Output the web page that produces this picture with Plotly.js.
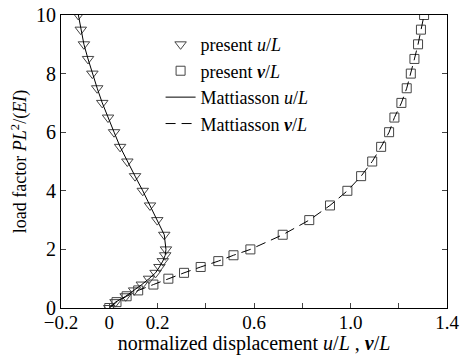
<!DOCTYPE html>
<html>
<head>
<meta charset="utf-8">
<script src="https://cdn.plot.ly/plotly-3.0.1.min.js"></script>
<style>html,body{margin:0;padding:0;background:#fff;}#chart{width:460px;height:355px;}</style>
</head>
<body>
<div id="chart"></div>
<script>
// load factor levels
const loadU = [0, 0.2, 0.4, 0.6, 0.8, 1.0, 1.2, 1.4, 1.6, 1.8, 2.0, 2.5, 3.0, 3.5, 4.0, 4.5, 5.0, 5.5, 6.0, 6.5, 7.0, 7.5, 8.0, 8.5, 9.0, 9.5, 10.0];
// present u/L (triangles)
const presentU = [0, 0.026, 0.068, 0.103, 0.135, 0.165, 0.192, 0.208, 0.222, 0.232, 0.235, 0.228, 0.199, 0.169, 0.139, 0.107, 0.075, 0.045, 0.020, -0.005, -0.029, -0.050, -0.070, -0.088, -0.105, -0.118, -0.128];
// present v/L (squares)
const loadV = [0, 0.2, 0.4, 0.6, 0.8, 1.0, 1.2, 1.4, 1.6, 1.8, 2.0, 2.5, 3.0, 3.5, 4.0, 4.5, 5.0, 5.5, 6.0, 6.5, 7.0, 7.5, 8.0, 8.5, 9.0, 9.5, 10.0];
const presentV = [0, 0.030, 0.072, 0.120, 0.183, 0.245, 0.310, 0.379, 0.452, 0.515, 0.585, 0.719, 0.829, 0.915, 0.987, 1.044, 1.090, 1.127, 1.160, 1.182, 1.211, 1.233, 1.250, 1.265, 1.280, 1.292, 1.305];
// Mattiasson reference curves
const mattLoad = [0, 0.2, 0.4, 0.6, 0.8, 1.0, 1.2, 1.4, 1.6, 1.8, 2.0, 2.5, 3.0, 3.5, 4.0, 4.5, 5.0, 5.5, 6.0, 6.5, 7.0, 7.5, 8.0, 8.5, 9.0, 9.5, 10.0];
const mattU = [0, 0.026, 0.068, 0.103, 0.135, 0.165, 0.192, 0.208, 0.222, 0.232, 0.235, 0.228, 0.199, 0.169, 0.139, 0.107, 0.075, 0.045, 0.020, -0.005, -0.029, -0.050, -0.070, -0.088, -0.105, -0.118, -0.128];
const mattV = [0, 0.030, 0.072, 0.120, 0.183, 0.245, 0.310, 0.379, 0.452, 0.515, 0.585, 0.719, 0.829, 0.915, 0.987, 1.044, 1.090, 1.127, 1.160, 1.182, 1.211, 1.233, 1.250, 1.265, 1.280, 1.292, 1.305];
// tick labels
const xTickVals = [-0.2, 0, 0.2, 0.4, 0.6, 0.8, 1.0, 1.2, 1.4];
const xTickText = ['\u22120.2', '0', '0.2', '', '0.6', '', '1.0', '', '1.4'];
const yTickVals = [0, 2, 4, 6, 8, 10];
const yTickText = ['0', '2', '4', '6', '8', '10'];

const FONT = 'Liberation Serif, Times New Roman, serif';
const traces = [
  {x: presentU, y: loadU, mode: 'markers', name: 'present <i>u</i>/<i>L</i>', legendgroup: 'p',
   marker: {symbol: 'triangle-down-open', size: 10, color: '#444', line: {width: 1}}},
  {x: presentV, y: loadV, mode: 'markers', name: 'present <b><i>v</i></b>/<i>L</i>', legendgroup: 'p',
   marker: {symbol: 'square-open', size: 9, color: '#444', line: {width: 1}}},
  {x: mattU, y: mattLoad, mode: 'lines', name: 'Mattiasson <i>u</i>/<i>L</i>', legendgroup: 'm',
   line: {color: '#000', width: 1}},
  {x: mattV, y: mattLoad, mode: 'lines', name: 'Mattiasson <b><i>v</i></b>/<i>L</i>', legendgroup: 'm',
   line: {color: '#000', width: 1, dash: '10px,6px'}}
];
const layout = {
  width: 460, height: 355,
  margin: {l: 61, r: 13, t: 15, b: 47},
  paper_bgcolor: '#fff', plot_bgcolor: '#fff',
  font: {family: FONT, size: 18, color: '#000'},
  showlegend: true,
  legend: {x: 0.258, y: 0.962, xanchor: 'left', yanchor: 'top', bgcolor: 'rgba(0,0,0,0)',
           traceorder: 'grouped', tracegroupgap: 0, font: {family: FONT, size: 18}},
  xaxis: {range: [-0.2, 1.4], tickvals: xTickVals, ticktext: xTickText, ticks: 'inside', ticklen: 5,
          showline: true, linecolor: '#000', linewidth: 1, mirror: true, showgrid: false, zeroline: false,
          tickfont: {family: FONT, size: 19}, ticklabelstandoff: -3,
          title: {text: 'normalized displacement <i>u</i>/<i>L</i> , <b><i>v</i></b>/<i>L</i>', font: {family: FONT, size: 20}, standoff: 0}},
  yaxis: {range: [0, 10], tickvals: yTickVals, ticktext: yTickText, ticks: 'inside', ticklen: 5,
          showline: true, linecolor: '#000', linewidth: 1, mirror: 'ticks', showgrid: false, zeroline: false,
          tickfont: {family: FONT, size: 20},
          title: {text: 'load factor <i>PL</i><sup>2</sup>/(<i>EI</i>)', font: {family: FONT, size: 18}, standoff: 4}}
};
Plotly.newPlot('chart', traces, layout, {staticPlot: true, displayModeBar: false});
</script>
</body>
</html>
